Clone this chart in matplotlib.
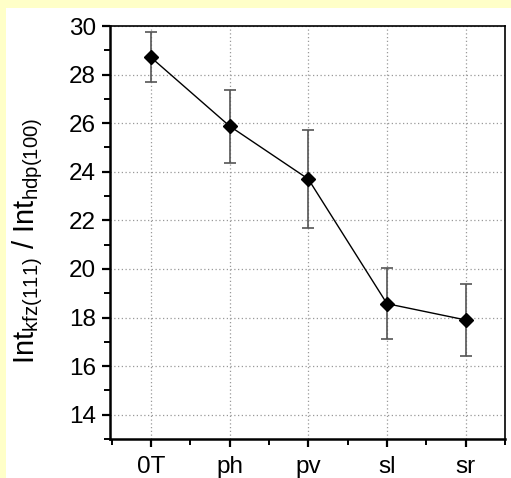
import matplotlib
matplotlib.use('Agg')
import matplotlib.pyplot as plt
from matplotlib.patches import Rectangle
from matplotlib.ticker import MultipleLocator

samples = ['0T', 'ph', 'pv', 'sl', 'sr']
ratio = [28.71, 25.88, 23.70, 18.57, 17.90]
ratio_err = [1.03, 1.50, 2.00, 1.47, 1.50]

plt.rcParams.update({'font.family': ['Liberation Sans', 'DejaVu Sans'], 'font.size': 17,
                     'mathtext.fontset': 'custom', 'mathtext.rm': 'Liberation Sans',
                     'mathtext.it': 'Liberation Sans', 'mathtext.default': 'regular'})

fig = plt.figure(figsize=(5.11, 4.78), dpi=100, facecolor='#FFFFC8')
# white panel inside the yellow frame
fig.patches.append(Rectangle((6 / 511, 0), 1, 1 - 8 / 478, transform=fig.transFigure,
                             facecolor='white', edgecolor='none', zorder=-1))
ax = fig.add_axes([110 / 511, 1 - 439 / 478, 395 / 511, 413 / 478])
ax.set_facecolor('white')

x = range(1, len(samples) + 1)
ax.errorbar(x, ratio, yerr=ratio_err, fmt='none', ecolor='#555555', elinewidth=1.2,
            capsize=4, capthick=1.2, zorder=2)
ax.plot(x, ratio, '-', color='black', lw=1.0, zorder=3)
ax.plot(x, ratio, 'D', color='black', ms=7.5, zorder=4)

ax.set_xlim(0.48, 5.5); ax.set_ylim(13, 30)
ax.set_xticks(list(x)); ax.set_xticklabels(samples)
ax.xaxis.set_minor_locator(MultipleLocator(0.5))
ax.yaxis.set_major_locator(MultipleLocator(2)); ax.yaxis.set_minor_locator(MultipleLocator(1))
ax.grid(True, which='major', color='#999999', ls=(0, (1, 2)), lw=0.9)
ax.tick_params(which='major', direction='out', length=6, width=1.6, labelsize=17.5)
ax.tick_params(axis='y', which='major', pad=4)
ax.tick_params(axis='x', which='major', pad=6)
ax.tick_params(which='minor', direction='out', length=4, width=1.4)
ax.tick_params(top=False, right=False, which='both')
for s in ('left', 'bottom'):
    ax.spines[s].set_linewidth(1.8)
for s in ('top', 'right'):
    ax.spines[s].set_linewidth(1.2)

fig.text(28 / 511, 1 - 241 / 478, 'Int$_{kfz(111)}$ / Int$_{hdp(100)}$', fontsize=21,
         rotation=90, ha='center', va='center')

fig.savefig('out.png', dpi=100, facecolor=fig.get_facecolor())
